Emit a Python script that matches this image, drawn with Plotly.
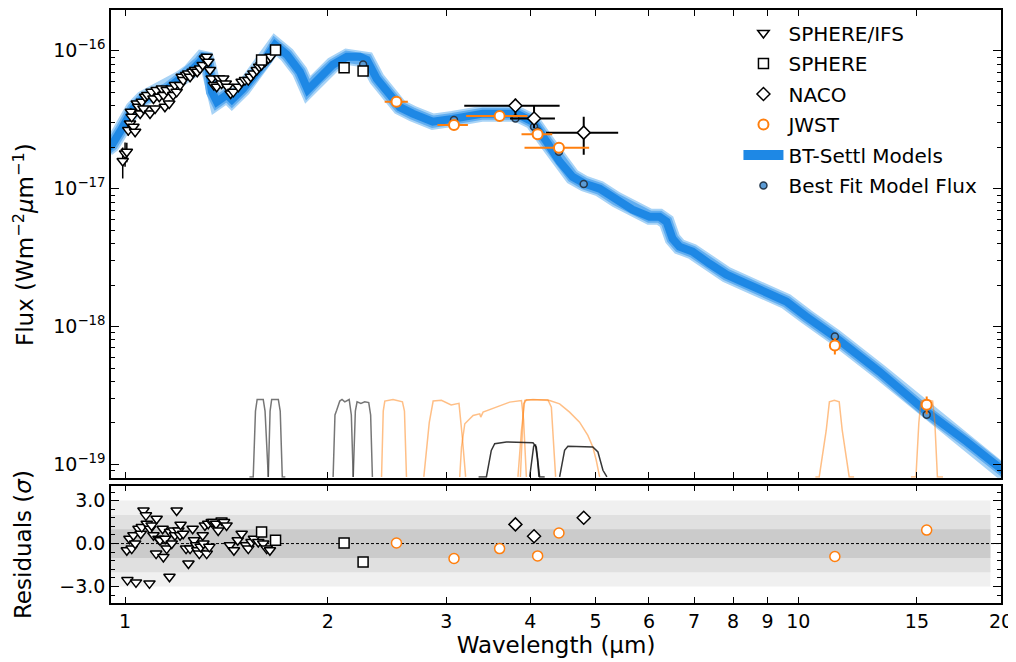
import plotly.graph_objects as go

# BT-Settl model spectrum, centre of the plotted band (micron, W m-2 um-1)
model_wl = [0.940, 0.956, 0.983, 1.006, 1.028, 1.063, 1.100, 1.154, 1.207, 1.249, 1.292,
            1.314, 1.328, 1.346, 1.369, 1.417, 1.441, 1.497, 1.570, 1.624, 1.670, 1.740,
            1.818, 1.868, 1.927, 2.035, 2.135, 2.232, 2.286, 2.365, 2.474, 2.559, 2.675,
            2.864, 3.066, 3.398, 3.815, 4.030, 4.228, 4.420, 4.620, 4.814, 5.068, 5.370,
            5.672, 6.011, 6.220, 6.371, 6.503, 6.659, 6.961, 7.379, 7.822, 8.373, 8.967,
            9.598, 10.28, 10.74, 11.31, 13.19, 15.49, 17.76, 20.08, 20.6]
model_flux = [1.95e-17, 2.08e-17, 2.59e-17, 3.23e-17, 3.80e-17, 4.49e-17, 4.88e-17, 5.30e-17,
              6.27e-17, 7.05e-17, 8.32e-17, 9.35e-17, 7.92e-17, 5.04e-17, 4.27e-17, 4.80e-17,
              4.42e-17, 5.30e-17, 7.05e-17, 8.75e-17, 1.105e-16, 9.35e-17, 7.05e-17, 5.22e-17,
              6.16e-17, 7.92e-17, 9.05e-17, 9.05e-17, 8.61e-17, 6.27e-17, 4.80e-17, 3.90e-17,
              3.50e-17, 3.06e-17, 3.21e-17, 3.50e-17, 3.50e-17, 3.06e-17, 2.19e-17, 1.57e-17,
              1.22e-17, 1.087e-17, 1.00e-17, 8.32e-18, 7.05e-18, 6.27e-18, 6.27e-18, 5.77e-18,
              4.34e-18, 3.80e-18, 3.50e-18, 2.86e-18, 2.38e-18, 2.05e-18, 1.79e-18, 1.52e-18,
              1.18e-18, 1.03e-18, 8.47e-19, 4.72e-19, 2.42e-19, 1.47e-19, 8.90e-20, 8.30e-20]

# SPHERE/IFS spectrum
ifs_wl = [0.992, 1.000, 1.006, 1.011, 1.017, 1.020, 1.023, 1.029, 1.035, 1.041, 1.046, 1.053,
          1.059, 1.065, 1.071, 1.079, 1.089, 1.095, 1.102, 1.108, 1.114, 1.124, 1.134, 1.140,
          1.146, 1.153, 1.163, 1.173, 1.179, 1.186, 1.193, 1.207, 1.214, 1.220, 1.232, 1.241,
          1.249, 1.260, 1.270, 1.280, 1.292, 1.304, 1.314, 1.322, 1.329, 1.337, 1.345, 1.355,
          1.368, 1.380, 1.391, 1.399, 1.411, 1.419, 1.435, 1.448, 1.473, 1.490, 1.507, 1.524,
          1.537, 1.551, 1.569, 1.582, 1.595, 1.613, 1.632, 1.645]
ifs_flux = [1.588e-17, 1.803e-17, 1.854e-17, 2.66e-17, 2.97e-17, 3.61e-17, 3.32e-17, 2.81e-17,
            2.59e-17, 4.15e-17, 3.93e-17, 3.51e-17, 4.27e-17, 3.82e-17, 4.64e-17, 4.78e-17,
            3.51e-17, 5.04e-17, 4.51e-17, 3.82e-17, 5.19e-17, 4.64e-17, 5.33e-17, 4.78e-17,
            3.93e-17, 5.19e-17, 4.15e-17, 5.33e-17, 4.78e-17, 5.64e-17, 5.04e-17, 5.64e-17,
            6.48e-17, 6.13e-17, 6.67e-17, 6.85e-17, 6.48e-17, 7.04e-17, 7.25e-17, 7.04e-17,
            7.44e-17, 7.88e-17, 8.79e-17, 9.05e-17, 8.32e-17, 7.25e-17, 6.30e-17, 5.64e-17,
            5.48e-17, 6.30e-17, 5.80e-17, 6.30e-17, 5.80e-17, 5.48e-17, 4.90e-17, 5.04e-17,
            5.48e-17, 5.96e-17, 6.13e-17, 6.13e-17, 6.48e-17, 6.85e-17, 7.25e-17, 7.66e-17,
            7.88e-17, 8.32e-17, 8.79e-17, 9.05e-17]
ifs_err = [4.0e-18, 3.6e-18, 3.0e-18, 2.4e-18, 2.5e-18, 2.3e-18, 2.2e-18, 2.2e-18, 2.1e-18,
           2.4e-18, 2.2e-18, 2.1e-18, 2.3e-18, 2.1e-18, 2.4e-18, 2.4e-18, 2.0e-18, 2.5e-18,
           2.3e-18, 2.0e-18, 2.6e-18, 2.3e-18, 2.6e-18, 2.4e-18, 2.0e-18, 2.6e-18, 2.1e-18,
           2.6e-18, 2.4e-18, 2.8e-18, 2.5e-18, 2.8e-18, 3.2e-18, 3.0e-18, 3.3e-18, 3.4e-18,
           3.2e-18, 3.5e-18, 3.6e-18, 3.5e-18, 3.7e-18, 3.9e-18, 4.4e-18, 4.5e-18, 4.2e-18,
           3.6e-18, 3.2e-18, 2.8e-18, 2.7e-18, 3.1e-18, 2.9e-18, 3.1e-18, 2.9e-18, 2.7e-18,
           2.5e-18, 2.5e-18, 2.7e-18, 3.0e-18, 3.0e-18, 3.0e-18, 3.2e-18, 3.4e-18, 3.6e-18,
           3.8e-18, 3.9e-18, 4.1e-18, 4.4e-18, 4.5e-18]

# SPHERE photometry
sphere_wl = [1.595, 1.673, 2.115, 2.257]
sphere_flux = [8.56e-17, 1.012e-16, 7.53e-17, 7.13e-17]
sphere_err = [2.0e-18, 2.0e-18, 2.0e-18, 4.0e-18]

# NACO photometry
naco_wl = [3.80, 4.05, 4.80]
naco_flux = [4.0e-17, 3.23e-17, 2.55e-17]
naco_xlo = [0.61, 0.32, 0.58]
naco_xhi = [0.62, 0.30, 0.60]
naco_ylo = [0.60e-17, 0.49e-17, 0.79e-17]
naco_yhi = [0.50e-17, 0.77e-17, 0.77e-17]

# JWST photometry
jwst_wl = [2.53, 3.08, 3.60, 4.10, 4.41, 11.33, 15.51]
jwst_flux = [4.27e-17, 2.90e-17, 3.36e-17, 2.48e-17, 1.98e-17, 7.28e-19, 2.71e-19]
jwst_xlo = [0.10, 0.17, 0.39, 0.22, 0.49, 0.0, 0.0]
jwst_xhi = [0.10, 0.15, 0.36, 0.21, 0.48, 0.0, 0.0]
jwst_yerr = [1.0e-18, 8.0e-19, 9.0e-19, 7.0e-19, 6.0e-19, 1.0e-19, 4.0e-20]

# best fit model flux in each band
fit_wl = [2.115, 2.257, 2.53, 3.08, 3.60, 3.80, 4.05, 4.10, 4.41, 4.80, 11.33, 15.51]
fit_flux = [7.6e-17, 7.96e-17, 4.2e-17, 3.15e-17, 3.4e-17, 3.23e-17, 2.81e-17, 2.6e-17,
            1.85e-17, 1.08e-17, 8.47e-19, 2.29e-19]

# residuals (sigma)
ifs_res_wl = [1.006, 1.008, 1.015, 1.023, 1.029, 1.035, 1.038, 1.047, 1.055, 1.059, 1.065,
              1.074, 1.077, 1.087, 1.089, 1.095, 1.102, 1.112, 1.114, 1.121, 1.127, 1.137,
              1.140, 1.147, 1.153, 1.164, 1.166, 1.173, 1.180, 1.186, 1.193, 1.200, 1.207,
              1.209, 1.220, 1.232, 1.242, 1.249, 1.260, 1.266, 1.275, 1.280, 1.289, 1.295,
              1.304, 1.307, 1.314, 1.322, 1.329, 1.334, 1.345, 1.352, 1.365, 1.375, 1.391,
              1.403, 1.415, 1.431, 1.451, 1.470, 1.490, 1.512, 1.524, 1.541, 1.554, 1.577,
              1.604, 1.623, 1.641]
ifs_res = [-0.47, -2.55, 0.34, -0.35, 0.58, 0.0, -2.71, 1.04, 0.69, 1.15, 2.31, 1.97, 1.39,
           -2.78, 1.04, 1.27, 0.58, -0.70, 1.73, 0.34, 0.23, 1.04, -0.93, 0.34, -0.35, -2.32,
           0.81, 0.0, 0.92, 0.58, 2.31, 0.92, 0.58, 1.32, 0.69, -0.35, -1.39, -0.35, 1.04,
           0.23, -0.12, -0.47, -0.70, -0.23, 0.58, 0.0, 1.27, -0.70, 1.39, -0.23, 1.50, 1.50,
           1.39, 0.92, 1.62, 1.50, 1.27, -0.12, -0.47, 0.23, 0.69, -0.12, -0.35, 0.11, 0.34,
           0.11, 0.0, -0.35, -0.47]
sphere_res = [0.81, 0.23, 0.04, -1.28]
naco_res = [1.34, 0.51, 1.80]
jwst_res = [0.04, -1.04, -0.35, -0.86, 0.74, -0.90, 0.94]

# filter transmission curves (normalised)
f_h2_wl = [1.530, 1.550, 1.562, 1.571, 1.604, 1.614, 1.632]
f_h2_tr = [0.0, 0.0, 0.85, 1.0, 1.0, 0.85, 0.0]
f_h3_wl = [1.632, 1.642, 1.651, 1.689, 1.700, 1.712, 1.730]
f_h3_tr = [0.0, 0.85, 1.0, 1.0, 0.85, 0.0, 0.0]
f_k1_wl = [2.037, 2.050, 2.062, 2.084, 2.100, 2.120, 2.152, 2.168, 2.182]
f_k1_tr = [0.0, 0.80, 0.86, 0.98, 1.0, 0.97, 1.0, 0.8, 0.0]
f_k2_wl = [2.182, 2.198, 2.211, 2.240, 2.270, 2.301, 2.316, 2.330]
f_k2_tr = [0.0, 0.85, 0.97, 0.95, 0.97, 0.96, 0.80, 0.0]
f_f250m_wl = [2.404, 2.418, 2.431, 2.50, 2.582, 2.600, 2.618]
f_f250m_tr = [0.0, 0.85, 0.98, 1.0, 0.97, 0.85, 0.0]
f_f300m_wl = [2.778, 2.830, 2.868, 2.95, 3.05, 3.133, 3.170, 3.205]
f_f300m_tr = [0.0, 0.70, 0.98, 0.99, 0.93, 0.95, 0.50, 0.0]
f_f356w_wl = [3.141, 3.160, 3.196, 3.288, 3.363, 3.375, 3.402, 3.560, 3.726, 3.879, 3.908, 3.945]
f_f356w_tr = [0.0, 0.386, 0.687, 0.794, 0.815, 0.773, 0.837, 0.90, 0.966, 0.987, 0.73, 0.0]
f_f444w_wl = [3.833, 3.879, 3.923, 4.035, 4.272, 4.420, 4.573, 4.732, 4.868, 4.952, 5.010, 5.068]
f_f444w_tr = [0.0, 0.60, 0.987, 1.0, 0.987, 0.944, 0.837, 0.708, 0.536, 0.386, 0.215, 0.0]
f_f410m_wl = [3.865, 3.908, 3.945, 4.246, 4.297, 4.360]
f_f410m_tr = [0.0, 0.944, 0.996, 0.996, 0.90, 0.0]
f_f1140c_wl = [10.60, 10.74, 11.00, 11.12, 11.31, 11.50, 11.62, 11.90, 12.1]
f_f1140c_tr = [0.0, 0.0, 0.60, 0.97, 0.99, 0.97, 0.60, 0.0, 0.0]
f_f1550c_wl = [14.70, 14.95, 15.10, 15.21, 15.50, 15.83, 15.95, 16.09, 16.4]
f_f1550c_tr = [0.0, 0.0, 0.70, 0.98, 1.0, 0.98, 0.70, 0.0, 0.0]
f_lp_wl = [3.35, 3.441, 3.499, 3.540, 3.685, 4.035, 4.081, 4.128, 4.20]
f_lp_tr = [0.0, 0.0, 0.343, 0.429, 0.451, 0.442, 0.386, 0.0, 0.0]
f_bra_wl = [3.99, 4.030, 4.045, 4.070, 4.095, 4.119]
f_bra_tr = [0.0, 0.25, 0.40, 0.41, 0.25, 0.0]
f_mp_wl = [4.420, 4.496, 4.547, 4.700, 4.952, 5.039, 5.126, 5.196]
f_mp_tr = [0.0, 0.343, 0.395, 0.390, 0.386, 0.322, 0.086, 0.0]

orange = "#ff7f0e"
blue = "#1e88e5"
font = "DejaVu Sans"

fig = go.Figure()

# model band (drawn as stacked wide lines)
for w, c in [(16, "#a8d3f6"), (12, "#62aef0"), (8, blue)]:
    fig.add_trace(go.Scatter(x=model_wl, y=model_flux, mode="lines",
                             line=dict(width=w, color=c), showlegend=False,
                             hoverinfo="skip", xaxis="x", yaxis="y"))
fig.add_trace(go.Scatter(x=[None], y=[None], mode="lines", line=dict(width=14, color=blue),
                         name="BT-Settl Models", legendrank=5, legendgroup="e"))

fig.add_trace(go.Scatter(x=fit_wl, y=fit_flux, mode="markers", name="Best Fit Model Flux",
                         marker=dict(size=7, color="#5b9bd5", line=dict(color="#26394d", width=1.5)),
                         legendrank=6, legendgroup="f", xaxis="x", yaxis="y"))

fig.add_trace(go.Scatter(x=ifs_wl, y=ifs_flux, mode="markers", name="SPHERE/IFS",
                         error_y=dict(type="data", array=ifs_err, color="black", thickness=1.5, width=0),
                         marker=dict(symbol="triangle-down", size=10, color="white",
                                     line=dict(color="black", width=1.5)),
                         legendrank=1, legendgroup="a", xaxis="x", yaxis="y"))
fig.add_trace(go.Scatter(x=sphere_wl, y=sphere_flux, mode="markers", name="SPHERE",
                         error_y=dict(type="data", array=sphere_err, color="black", thickness=1.5, width=0),
                         marker=dict(symbol="square", size=10, color="white",
                                     line=dict(color="black", width=1.5)),
                         legendrank=2, legendgroup="b", xaxis="x", yaxis="y"))
fig.add_trace(go.Scatter(x=naco_wl, y=naco_flux, mode="markers", name="NACO",
                         error_x=dict(type="data", array=naco_xhi, arrayminus=naco_xlo,
                                      color="black", thickness=2, width=0),
                         error_y=dict(type="data", array=naco_yhi, arrayminus=naco_ylo,
                                      color="black", thickness=2, width=0),
                         marker=dict(symbol="diamond", size=10, color="white",
                                     line=dict(color="black", width=1.5)),
                         legendrank=3, legendgroup="c", xaxis="x", yaxis="y"))
fig.add_trace(go.Scatter(x=jwst_wl, y=jwst_flux, mode="markers", name="JWST",
                         error_x=dict(type="data", array=jwst_xhi, arrayminus=jwst_xlo,
                                      color=orange, thickness=2, width=0),
                         error_y=dict(type="data", array=jwst_yerr, color=orange, thickness=2, width=0),
                         marker=dict(symbol="circle", size=10, color="white",
                                     line=dict(color=orange, width=2)),
                         legendrank=4, legendgroup="d", xaxis="x", yaxis="y"))

# filter curves on a hidden linear axis
grey_f = "rgba(60,60,60,0.7)"
orange_f = "rgba(255,127,14,0.5)"
black_f = "rgba(20,20,20,0.85)"
filters = [
    (f_h2_wl, f_h2_tr, grey_f), (f_h3_wl, f_h3_tr, grey_f),
    (f_k1_wl, f_k1_tr, grey_f), (f_k2_wl, f_k2_tr, grey_f),
    (f_f250m_wl, f_f250m_tr, orange_f), (f_f300m_wl, f_f300m_tr, orange_f),
    (f_f356w_wl, f_f356w_tr, orange_f), (f_f444w_wl, f_f444w_tr, orange_f),
    (f_f410m_wl, f_f410m_tr, orange_f), (f_f1140c_wl, f_f1140c_tr, orange_f),
    (f_f1550c_wl, f_f1550c_tr, orange_f),
    (f_lp_wl, f_lp_tr, black_f), (f_bra_wl, f_bra_tr, black_f), (f_mp_wl, f_mp_tr, black_f),
]
for fw, ft, fc in filters:
    fig.add_trace(go.Scatter(x=fw, y=ft, mode="lines", line=dict(color=fc, width=1.5),
                             showlegend=False, hoverinfo="skip", xaxis="x", yaxis="y3"))

# residual panel
res_sets = [
    (ifs_res_wl, ifs_res, "triangle-down", "black"),
    (sphere_wl, sphere_res, "square", "black"),
    (naco_wl, naco_res, "diamond", "black"),
    (jwst_wl, jwst_res, "circle", orange),
]
for rw, rv, sym, col in res_sets:
    fig.add_trace(go.Scatter(x=rw, y=rv, mode="markers", showlegend=False,
                             marker=dict(symbol=sym, size=10, color="white",
                                         line=dict(color=col, width=1.5)),
                             xaxis="x2", yaxis="y2"))

# sigma bands and zero line
for lim, col in [(3, "#f0f0f0"), (2, "#e0e0e0"), (1, "#cbcbcb")]:
    fig.add_shape(type="rect", xref="x2 domain", yref="y2", x0=0, x1=0.988, y0=-lim, y1=lim,
                  fillcolor=col, line=dict(width=0), layer="below")
fig.add_shape(type="line", xref="x2 domain", yref="y2", x0=0, x1=1, y0=0, y1=0,
              line=dict(color="black", width=1, dash="3px,2px"), layer="below")

x_ticks = [1, 2, 3, 4, 5, 6, 7, 8, 9, 10, 15, 20]
axis_common = dict(showline=True, linecolor="black", linewidth=1.5, mirror="ticks",
                   ticks="inside", tickcolor="black", tickwidth=1.2, showgrid=False,
                   zeroline=False, tickfont=dict(family=font, size=19, color="black"))

minor_flux = [m * 10.0 ** e for e in range(-20, -15) for m in range(2, 10)]

# the page body adds an 8 px offset, so the figure is 8 px smaller than the window
fig.update_layout(
    width=1008, height=654,
    margin=dict(l=103, r=15, t=0, b=59),
    paper_bgcolor="white", plot_bgcolor="white",
    font=dict(family=font, size=19, color="black"),
    xaxis=dict(type="log", range=[-0.0209, 1.3010], domain=[0, 1], anchor="y",
               tickvals=x_ticks, showticklabels=False, ticklen=6, **axis_common),
    yaxis=dict(type="log", range=[-19.096, -15.704], domain=[0.2113, 1], anchor="x",
               tickvals=[1e-19, 1e-18, 1e-17, 1e-16],
               ticktext=["10<sup>−19</sup>", "10<sup>−18</sup>", "10<sup>−17</sup>", "10<sup>−16</sup>"],
               ticklen=8,
               minor=dict(tickvals=minor_flux, ticks="inside", ticklen=4, tickcolor="black"),
               **axis_common),
    yaxis3=dict(overlaying="y", anchor="x", range=[-0.01, 6.03], visible=False),
    xaxis2=dict(type="log", range=[-0.0209, 1.3010], domain=[0, 1], anchor="y2",
                tickvals=x_ticks, ticktext=[str(v) for v in x_ticks], ticklen=6,
                title=dict(text="Wavelength (µm)", font=dict(family=font, size=23), standoff=6),
                **axis_common),
    yaxis2=dict(range=[-4.15, 4.05], domain=[0, 0.198], anchor="x2",
                tickvals=[-3, 0, 3], ticktext=["−3.0", "0.0", "3.0"], ticklen=8,
                minor=dict(dtick=0.6, tick0=0, ticks="inside", ticklen=4, tickcolor="black"),
                **axis_common),
    legend=dict(x=0.705, y=0.994, xanchor="left", yanchor="top", itemwidth=40,
                bgcolor="rgba(0,0,0,0)", font=dict(family=font, size=20, color="black"),
                traceorder="grouped", tracegroupgap=1.5),
    annotations=[
        dict(text="Flux (Wm<sup>−2</sup><i>µ</i>m<sup>−1</sup>)", xref="paper", yref="paper",
             x=-0.098, y=0.605, textangle=-90, showarrow=False,
             font=dict(family=font, size=23, color="black"), xanchor="center", yanchor="middle"),
        dict(text="Residuals (<i>σ</i>)", xref="paper", yref="paper",
             x=-0.098, y=0.099, textangle=-90, showarrow=False,
             font=dict(family=font, size=23, color="black"), xanchor="center", yanchor="middle"),
    ],
)

fig.write_html("out.html")
